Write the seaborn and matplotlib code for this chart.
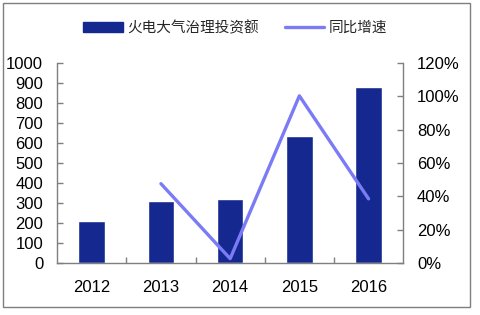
import matplotlib
matplotlib.use("Agg")
import matplotlib.pyplot as plt
import seaborn as sns
import pandas as pd
import numpy as np
from matplotlib.patches import Patch, Rectangle
from matplotlib.lines import Line2D
from matplotlib.ticker import FuncFormatter, FixedLocator

years = ["2012", "2013", "2014", "2015", "2016"]
invest = [210, 310, 318, 637, 882]
growth = [np.nan, 0.476, 0.026, 1.003, 0.385]
bar_label = "火电大气治理投资额"
line_label = "同比增速"

bar_color = "#14288f"
line_color = "#7b7bf5"
grey = "#7f7f7f"

sns.set_theme(style="white")
plt.rcParams["font.family"] = ["Liberation Sans", "Noto Sans CJK SC", "DejaVu Sans"]

df = pd.DataFrame({"year": years, "invest": invest, "growth": growth})

fig = plt.figure(figsize=(4.8, 3.15), dpi=100)
ax = fig.add_axes([0.119, 0.165, 0.721, 0.635])

sns.barplot(data=df, x="year", y="invest", order=years, color=bar_color,
            width=0.385, saturation=1, ax=ax)
ax.set_xlim(-0.5, 4.5)
ax.set_ylim(0, 1000)
ax.set_yticks(np.arange(0, 1001, 100))
ax.set_xlabel("")
ax.set_ylabel("")

ax2 = ax.twinx()
sns.pointplot(data=df, x="year", y="growth", order=years, color=line_color,
              markers="", linewidth=2.4, ax=ax2)
ax2.set_xlim(-0.5, 4.5)
ax2.set_ylim(0, 1.2)
ax2.set_yticks(np.arange(0, 1.21, 0.2))
ax2.yaxis.set_major_formatter(FuncFormatter(lambda v, p: f"{v*100:.0f}%"))
ax2.set_ylabel("")
ax2.set_xlabel("")

for a in (ax, ax2):
    for s in a.spines.values():
        s.set_visible(False)
ax.spines["left"].set_visible(True)
ax.spines["bottom"].set_visible(True)
ax2.spines["right"].set_visible(True)
for s in (ax.spines["left"], ax.spines["bottom"], ax2.spines["right"]):
    s.set_color(grey)
    s.set_linewidth(1.0)

ax.xaxis.set_minor_locator(FixedLocator([0.5, 1.5, 2.5, 3.5]))
ax.tick_params(axis="x", which="major", length=0, pad=12, labelsize=12, colors="black")
ax.tick_params(axis="x", which="minor", direction="in", length=4, width=1, color=grey, bottom=True)
ax.tick_params(axis="y", direction="in", length=4, width=1, color=grey, pad=10,
               labelsize=12, left=True, labelcolor="black")
ax2.tick_params(axis="y", direction="in", length=4, width=1, color=grey, pad=10,
                labelsize=12, right=True, labelcolor="black")

handles = [Patch(facecolor=bar_color, edgecolor=bar_color),
           Line2D([0], [0], color=line_color, linewidth=2.4)]
fig.legend(handles, [bar_label, line_label], loc="center", bbox_to_anchor=(0.49, 0.912),
           ncol=2, frameon=False, fontsize=10.5, handlelength=2.7, handleheight=0.7,
           columnspacing=1.8, handletextpad=0.3,
           prop={"family": ["Noto Sans CJK SC", "DejaVu Sans"], "size": 10.5})

fig.add_artist(Rectangle((3/480, 1 - 307/315), 467/480, 304/315, transform=fig.transFigure,
                         fill=False, edgecolor=grey, linewidth=1.0))

fig.savefig("out.png", dpi=100)
